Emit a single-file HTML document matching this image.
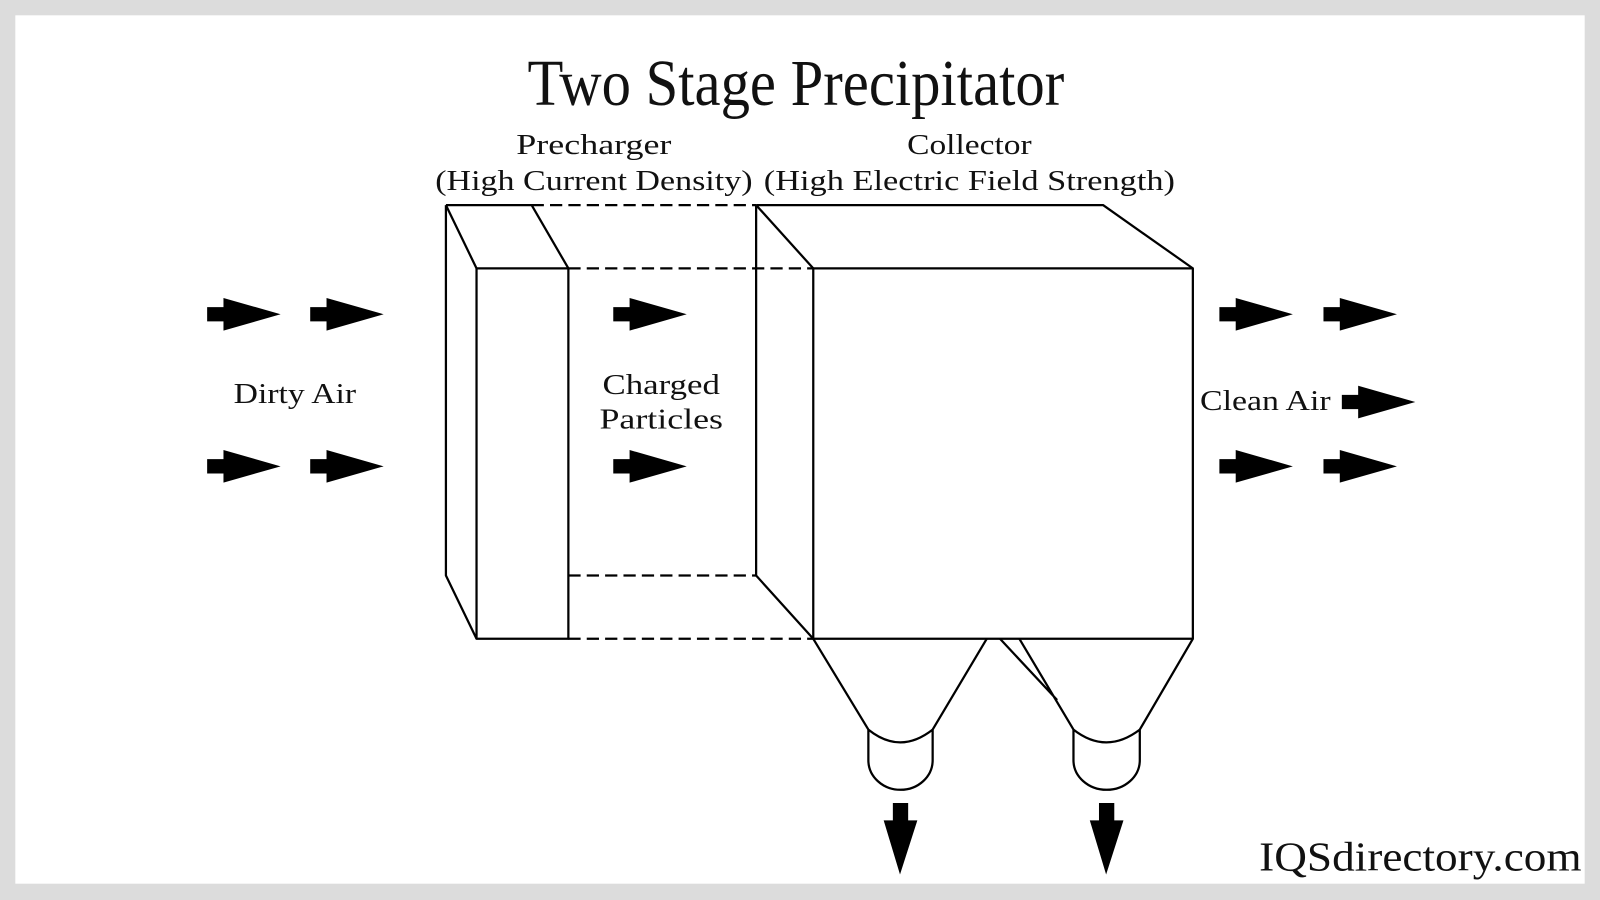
<!DOCTYPE html>
<html><head><meta charset="utf-8"><style>
html,body{margin:0;padding:0;background:#dcdcdc;}
svg{display:block}
text{font-family:"Liberation Serif",serif;fill:#111}
</style></head><body>
<svg width="1600" height="900" viewBox="0 0 1568 882" preserveAspectRatio="none" xmlns="http://www.w3.org/2000/svg">
<defs>
<polygon id="ra" points="0,-7 16,-7 16,-16 72,0 16,16 16,7 0,7" fill="#000"/>
</defs>
<rect x="0" y="0" width="1568" height="882" fill="#dcdcdc"/>
<rect x="15" y="15" width="1538" height="851" fill="#fff"/>
<text x="780" y="103" font-size="64" text-anchor="middle" textLength="526" lengthAdjust="spacingAndGlyphs" font-weight="normal">Two Stage Precipitator</text>
<text x="582" y="151" font-size="28" text-anchor="middle" textLength="152" lengthAdjust="spacingAndGlyphs">Precharger</text>
<text x="582" y="186" font-size="28" text-anchor="middle" textLength="311" lengthAdjust="spacingAndGlyphs">(High Current Density)</text>
<text x="950" y="151" font-size="28" text-anchor="middle" textLength="122" lengthAdjust="spacingAndGlyphs">Collector</text>
<text x="950" y="186" font-size="28" text-anchor="middle" textLength="403" lengthAdjust="spacingAndGlyphs">(High Electric Field Strength)</text>
<text x="289" y="395" font-size="28" text-anchor="middle" textLength="120" lengthAdjust="spacingAndGlyphs">Dirty Air</text>
<text x="648" y="386" font-size="28" text-anchor="middle" textLength="115" lengthAdjust="spacingAndGlyphs">Charged</text>
<text x="648" y="420" font-size="28" text-anchor="middle" textLength="121" lengthAdjust="spacingAndGlyphs">Particles</text>
<text x="1176" y="402" font-size="28" textLength="128" lengthAdjust="spacingAndGlyphs">Clean Air</text>
<text x="1234" y="853" font-size="40" textLength="316" lengthAdjust="spacingAndGlyphs">IQSdirectory.com</text>
<g fill="none" stroke="#000" stroke-width="2.2" stroke-linejoin="round">
<path d="M437,201 L521,201 L557,263 M437,201 L467,263 M437,201 L437,564 L467,626"/>
<rect x="467" y="263" width="90" height="363"/>
<path d="M741,201 L1081,201 L1169,263 M741,201 L797,263 M741,201 L741,564 L797,626"/>
<rect x="797" y="263" width="372" height="363"/>
<g stroke-dasharray="12,6">
<path d="M521,201 L741,201 M557,263 L797,263 M557,564 L741,564 M557,626 L797,626"/>
</g>
<path d="M797,626 L851,715 M967,626 L914,715 M851,715 Q882,740 914,715 L914,745 A31.5,29 0 0 1 851,745 Z"/>
<path d="M980,626 L1036,686 M999,626 L1052,715 M1169,626 L1117,715 M1052,715 Q1084,740 1117,715 L1117,745 A32.5,29 0 0 1 1052,745 Z"/>
</g>
<g>
<use href="#ra" x="203" y="308"/><use href="#ra" x="304" y="308"/><use href="#ra" x="601" y="308"/><use href="#ra" x="1195" y="308"/><use href="#ra" x="1297" y="308"/>
<use href="#ra" x="203" y="457"/><use href="#ra" x="304" y="457"/><use href="#ra" x="601" y="457"/><use href="#ra" x="1195" y="457"/><use href="#ra" x="1297" y="457"/>
<use href="#ra" x="1315" y="394"/>
</g>
<polygon points="875,787 890,787 890,804 899,804 882,857 866,804 875,804" fill="#000"/>
<polygon points="1077,787 1092,787 1092,804 1101,804 1084,857 1068,804 1077,804" fill="#000"/>
</svg>
</body></html>
